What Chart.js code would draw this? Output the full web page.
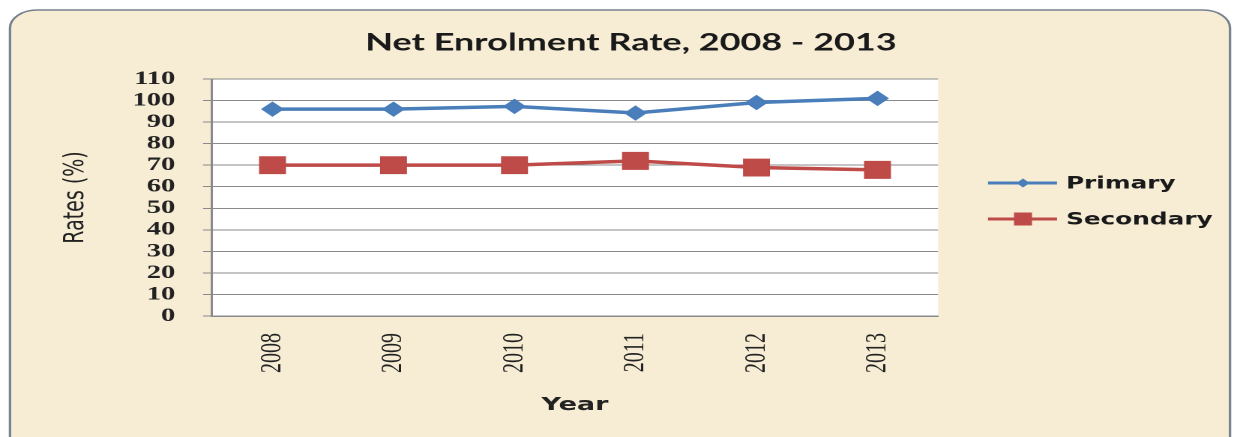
<!DOCTYPE html>
<html>
<head>
<meta charset="utf-8">
<title>Net Enrolment Rate, 2008 - 2013</title>
<script src="https://cdn.jsdelivr.net/npm/chart.js@4.4.1/dist/chart.umd.min.js"></script>
<style>
  html, body { margin: 0; padding: 0; background: #ffffff; overflow: hidden; }
  /* the source picture is stretched sideways, so draw narrow and stretch */
  #wrap { width: 823px; height: 437px; transform-origin: 0 0; }
</style>
</head>
<body>
<div id="wrap"><canvas id="enrolChart" width="823" height="437"></canvas></div>
<script>
// data
const years = ['2008', '2009', '2010', '2011', '2012', '2013'];
const primaryRates = [96, 96, 97.3, 94.2, 99.1, 101];
const secondaryRates = [70, 70, 70, 72, 68.9, 67.8];
const yMin = 0;
const yMax = 110;
const yStep = 10;

const W = 1234;
const CW = 823;
const S = W / CW;            // horizontal stretch
document.getElementById('wrap').style.transform = 'scaleX(' + S + ')';

const BLUE = '#4a7ebb';
const RED = '#be4b48';
const GRID = '#8a8a8a';

// background, plot area, title and legend
const decor = {
  id: 'decor',
  beforeDraw(chart) {
    const ctx = chart.ctx;
    const a = chart.chartArea;
    ctx.save();
    ctx.fillStyle = '#ffffff';
    ctx.fillRect(0, 0, chart.width, chart.height);
    ctx.beginPath();
    ctx.roundRect(10 / S, 10, (1230 - 10) / S, 460, 18);
    ctx.fillStyle = '#f7edd5';
    ctx.fill();
    ctx.lineWidth = 1.6;
    ctx.strokeStyle = '#76828e';
    ctx.stroke();
    ctx.fillStyle = '#ffffff';
    ctx.fillRect(a.left, a.top, a.right - a.left, a.bottom - a.top);
    ctx.restore();
  },
  afterDraw(chart) {
    const ctx = chart.ctx;
    ctx.save();
    // title
    ctx.fillStyle = '#1a1a1a';
    ctx.font = 'bold 24px Lato, "DejaVu Sans", sans-serif';
    ctx.textAlign = 'center';
    ctx.textBaseline = 'middle';
    ctx.fillText('Net Enrolment Rate, 2008 - 2013', 631 / S, 43);

    // legend
    const rows = [
      { label: 'Primary', color: BLUE, style: 'diamond', y: 183 },
      { label: 'Secondary', color: RED, style: 'square', y: 219 }
    ];
    const x1 = 988 / S, x2 = 1057 / S, mx = 1023 / S;
    rows.forEach(r => {
      ctx.strokeStyle = r.color;
      ctx.fillStyle = r.color;
      ctx.lineWidth = 3;
      ctx.beginPath();
      ctx.moveTo(x1, r.y);
      ctx.lineTo(x2, r.y);
      ctx.stroke();
      ctx.beginPath();
      if (r.style === 'diamond') {
        ctx.moveTo(mx - 4.5, r.y);
        ctx.lineTo(mx, r.y - 4.5);
        ctx.lineTo(mx + 4.5, r.y);
        ctx.lineTo(mx, r.y + 4.5);
        ctx.closePath();
      } else {
        ctx.rect(mx - 6, r.y - 6.5, 12, 13);
      }
      ctx.fill();
      ctx.fillStyle = '#1a1a1a';
      ctx.font = 'bold 16.5px "DejaVu Sans", sans-serif';
      ctx.textAlign = 'left';
      ctx.textBaseline = 'middle';
      ctx.fillText(r.label, 1066 / S, r.y + 1);
    });
    ctx.restore();
  }
};

const ctx = document.getElementById('enrolChart').getContext('2d');
const chart = new Chart(ctx, {
  type: 'line',
  data: {
    labels: years,
    datasets: [
      {
        label: 'Primary',
        data: primaryRates,
        borderColor: BLUE,
        backgroundColor: BLUE,
        borderWidth: 3.5,
        pointStyle: 'rectRot',
        pointRadius: 7,
        pointHoverRadius: 7,
        pointBackgroundColor: BLUE,
        pointBorderColor: BLUE,
        pointBorderWidth: 1,
        tension: 0,
        fill: false
      },
      {
        label: 'Secondary',
        data: secondaryRates,
        borderColor: RED,
        backgroundColor: RED,
        borderWidth: 3.5,
        pointStyle: 'rect',
        pointRadius: 12,
        pointHoverRadius: 12,
        pointBackgroundColor: RED,
        pointBorderColor: RED,
        pointBorderWidth: 1,
        tension: 0,
        fill: false
      }
    ]
  },
  options: {
    responsive: false,
    maintainAspectRatio: false,
    devicePixelRatio: 2,
    animation: false,
    layout: {
      padding: { top: 79, right: (W - 938) / S, bottom: 0, left: 0 }
    },
    plugins: {
      legend: { display: false },
      title: { display: false },
      tooltip: { enabled: false }
    },
    scales: {
      x: {
        offset: true,
        afterFit: function(scale) { scale.height = 437 - 316; },
        grid: { display: true, drawOnChartArea: false, drawTicks: false },
        border: { display: true, color: GRID, width: 1.5 },
        ticks: {
          autoSkip: false,
          minRotation: 90,
          maxRotation: 90,
          padding: 17,
          color: '#222',
          font: { family: '"Liberation Serif", "DejaVu Serif", serif', size: 20 }
        },
        title: {
          display: true,
          text: 'Year',
          color: '#222',
          font: { family: '"DejaVu Sans", sans-serif', size: 18, weight: 'bold' },
          padding: { top: 0, bottom: 21 }
        }
      },
      y: {
        min: yMin,
        max: yMax,
        afterFit: function(scale) { scale.width = 212 / S; },
        grid: { color: GRID, lineWidth: 1, tickLength: 6, tickColor: GRID },
        border: { display: true, color: GRID, width: 1.5 },
        ticks: {
          autoSkip: false,
          stepSize: yStep,
          padding: 18.5,
          color: '#222',
          font: { family: '"Liberation Serif", "DejaVu Serif", serif', size: 19, weight: 'bold' }
        },
        title: {
          display: true,
          text: 'Rates (%)',
          color: '#222',
          font: { family: '"DejaVu Sans", sans-serif', size: 19 },
          padding: { top: 39, bottom: 0 }
        }
      }
    }
  },
  plugins: [decor]
});
</script>
</body>
</html>
